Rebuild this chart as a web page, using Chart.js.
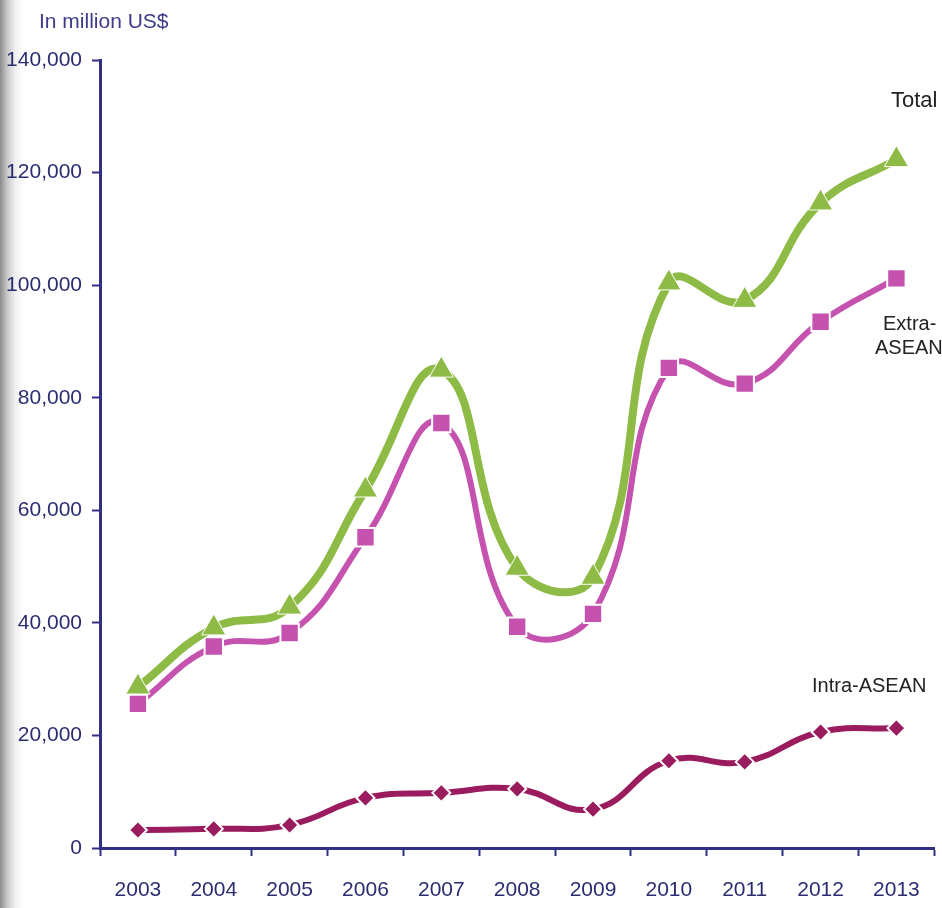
<!DOCTYPE html>
<html>
<head>
  <script src="https://cdn.jsdelivr.net/npm/chart.js@4"></script>
  <style>
    html, body { margin: 0; padding: 0; }
    body {
      width: 942px; height: 908px; overflow: hidden;
      background: linear-gradient(to right, #8c8c8c 0px, #c8c8c8 7px, #efefef 15px, #fff 24px);
    }
    canvas { display: block; }
  </style>
</head>
<body>
  <canvas id="myChart" width="942" height="908"></canvas>
  <script>
    const years = ['2003', '2004', '2005', '2006', '2007', '2008', '2009', '2010', '2011', '2012', '2013'];
    const total = [28600, 39100, 42800, 63600, 84900, 49700, 48100, 100400, 97300, 114600, 122300];
    const extraAsean = [25600, 35800, 38200, 55200, 75500, 39300, 41600, 85300, 82500, 93500, 101200];
    const intraAsean = [3200, 3400, 4100, 8900, 9800, 10500, 6900, 15500, 15300, 20600, 21300];
    const yTicks = [0, 20000, 40000, 60000, 80000, 100000, 120000, 140000];

    const navy = '#2f2f84';
    const font = 'Liberation Sans, Arial, sans-serif';

    // text notes put on the plot like the original
    const notes = {
      id: 'notes',
      afterDraw(chart) {
        const { ctx } = chart;
        ctx.save();
        ctx.textBaseline = 'middle';
        ctx.fillStyle = '#3d3a86';
        ctx.font = '21px ' + font;
        ctx.fillText('In million US$', 39, 22);
        ctx.fillStyle = '#222';
        ctx.font = '22px ' + font;
        ctx.fillText('Total', 891, 101);
        ctx.font = '20px ' + font;
        ctx.fillText('Extra-', 883, 324);
        ctx.fillText('ASEAN', 875, 348);
        ctx.fillText('Intra-ASEAN', 812, 686);
        ctx.restore();
      },
    };

    const ctx = document.getElementById('myChart').getContext('2d');
    new Chart(ctx, {
      type: 'line',
      data: {
        labels: years,
        datasets: [{
          label: 'Total',
          data: total,
          borderColor: '#8dbb45',
          backgroundColor: '#8dbb45',
          borderWidth: 8,
          pointStyle: 'triangle',
          pointRadius: 14,
          pointBorderColor: '#fff',
          pointBorderWidth: 1,
        }, {
          label: 'Extra-ASEAN',
          data: extraAsean,
          borderColor: '#c452ae',
          backgroundColor: '#c452ae',
          borderWidth: 6,
          pointStyle: 'rect',
          pointRadius: 13,
          pointBorderColor: '#fff',
          pointBorderWidth: 2,
        }, {
          label: 'Intra-ASEAN',
          data: intraAsean,
          borderColor: '#9a1c5e',
          backgroundColor: '#9a1c5e',
          borderWidth: 6,
          pointStyle: 'rectRot',
          pointRadius: 9,
          pointBorderColor: '#fff',
          pointBorderWidth: 2,
        }],
      },
      options: {
        responsive: false,
        animation: false,
        tension: 0.45,
        layout: { autoPadding: false, padding: { top: 60, right: 5, left: 0, bottom: 0 } },
        plugins: { legend: { display: false }, tooltip: { enabled: false } },
        scales: {
          x: {
            offset: true,
            grid: { drawOnChartArea: false, offset: true, tickLength: 8, tickColor: navy, tickWidth: 2 },
            border: { color: navy, width: 3 },
            ticks: { color: '#2b2d72', font: { family: font, size: 21 }, padding: 22 },
            afterFit(scale) { scale.height = 60; },
          },
          y: {
            min: 0,
            max: 140000,
            afterBuildTicks(scale) { scale.ticks = yTicks.map(v => ({ value: v })); },
            grid: { drawOnChartArea: false, tickLength: 8, tickColor: navy, tickWidth: 2 },
            border: { color: navy, width: 3 },
            ticks: {
              color: '#2b2d72',
              font: { family: font, size: 21 },
              padding: 10,
              callback: v => v.toLocaleString('en-US'),
            },
            afterFit(scale) { scale.width = 100; },
          },
        },
      },
      plugins: [notes],
    });
  </script>
</body>
</html>
